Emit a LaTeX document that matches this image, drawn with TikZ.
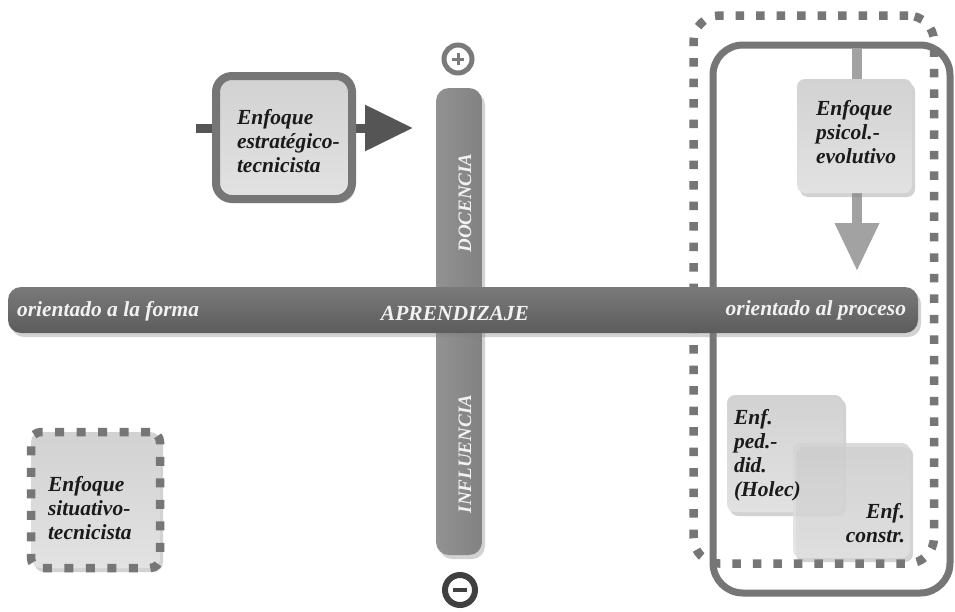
\documentclass[tikz,border=0pt]{standalone}
\usepackage{fontspec}
\setmainfont{Liberation Serif}
\usetikzlibrary{shadows,arrows.meta}
\definecolor{hbarc}{HTML}{6A6A6A}
\definecolor{hbartop}{HTML}{7A7A7A}
\definecolor{hbarbot}{HTML}{5C5C5C}
\definecolor{vbarl}{HTML}{929292}
\definecolor{vbarr}{HTML}{828282}
\definecolor{framec}{HTML}{767676}
\definecolor{boxtop}{HTML}{D2D2D2}
\definecolor{boxbot}{HTML}{E2E2E2}
\definecolor{arrdark}{HTML}{555555}
\definecolor{arrlight}{HTML}{A2A2A2}
\definecolor{plusc}{HTML}{7A7A7A}
\definecolor{minusc}{HTML}{404040}
\definecolor{txtc}{HTML}{1A1A1A}
\definecolor{bartxt}{HTML}{F2F2F2}
\begin{document}
\begin{tikzpicture}[x=1pt,y=-1pt,
  every node/.style={inner sep=0pt, outer sep=0pt},
  shad/.style={drop shadow={opacity=0.35, shadow xshift=3pt, shadow yshift=-4pt}},
  barbase/.style={rounded corners=13pt, shad},
  hbarstyle/.style={barbase, top color=hbartop, bottom color=hbarbot},
  vbarstyle/.style={barbase, left color=vbarl, right color=vbarr},
  bartext/.style={text=bartxt, font=\bfseries\itshape\fontsize{21.5}{24}\selectfont},
  vtext/.style={text=bartxt, font=\bfseries\itshape\fontsize{19}{22}\selectfont, rotate=90},
  boxtext/.style={text=txtc, font=\bfseries\itshape\fontsize{21.5}{24}\selectfont, align=left},
  lightbox/.style={rounded corners=8pt, top color=boxtop, bottom color=boxbot, shad},
  dottedframe/.style={draw=framec, line width=8.5pt, dash pattern=on 8.5pt off 12pt},
  solidframe/.style={draw=framec, line width=7pt, rounded corners=30pt},
]
\useasboundingbox (0,0) rectangle (955,611);
\fill[white] (0,0) rectangle (955,611);

% right frames
\node[solidframe, minimum width=237pt, minimum height=548pt] (solid) at (831.5,319) {};
\node[dottedframe, rounded corners=26pt, minimum width=240.5pt, minimum height=548pt] (dotted) at (813.75,289.5) {};

% vertical bar
\node[vbarstyle, minimum width=46pt, minimum height=467pt] (vbar) at (459,321.5) {};
\node[vtext] (doc) at (465,203) {DOCENCIA};
\node[vtext] (infl) at (465,454) {INFLUENCIA};

% horizontal bar
\node[hbarstyle, minimum width=910pt, minimum height=46pt] (hbar) at (463,310) {};
\node[bartext, anchor=west] (forma) at (17,311) {orientado a la forma};
\node[bartext] (aprend) at (455,314) {APRENDIZAJE};
\node[bartext, anchor=east] (proceso) at (906,310) {orientado al proceso};

% plus / minus
\node[circle, draw=plusc, line width=5pt, minimum size=28pt] (plus) at (458,59) {};
\draw[plusc, line width=3pt] ([xshift=-6pt]plus.center) -- ([xshift=6pt]plus.center);
\draw[plusc, line width=3pt] ([yshift=-6pt]plus.center) -- ([yshift=6pt]plus.center);
\node[circle, draw=minusc, line width=6pt, minimum size=30pt] (minus) at (460,590) {};
\draw[minusc, line width=4pt] ([xshift=-7pt]minus.center) -- ([xshift=7pt]minus.center);

% psicol.-evolutivo with arrow
\coordinate (pa1) at (857,48);
\coordinate (pa2) at (857,271);
\draw[arrlight, line width=10pt, -{Triangle[length=48pt,width=42pt]}, shad] (pa1) -- (pa2);
\node[lightbox, minimum width=115pt, minimum height=114pt] (psicol) at (854.5,136) {};
\node[boxtext, anchor=west] (psicoltxt) at (816,132) {Enfoque\\psicol.-\\evolutivo};

% Holec and constr
\node[lightbox, minimum width=116pt, minimum height=117pt] (holec) at (785,453.5) {};
\node[lightbox, fill opacity=0.82, minimum width=117pt, minimum height=115pt] (constr) at (851.5,500.5) {};
\node[boxtext, anchor=west] (holectxt) at (734,455) {Enf.\\ped.-\\did.\\(Holec)};
\node[boxtext, align=right, anchor=east] (constrtxt) at (905,523) {Enf.\\constr.};

% estrategico-tecnicista with arrow
\coordinate (ea1) at (196,128);
\coordinate (ea2) at (413,128);
\draw[arrdark, line width=9pt, -{Triangle[length=48pt,width=44pt]}, shad] (ea1) -- (ea2);
\node[draw=framec, line width=8pt, rounded corners=16pt, top color=boxtop, bottom color=boxbot, shad,
      minimum width=136pt, minimum height=123pt] (estrat) at (284,137.5) {};
\node[boxtext, anchor=west] (estrattxt) at (237,141) {Enfoque\\estratégico-\\tecnicista};

% situativo-tecnicista
\node[dottedframe, dash pattern=on 9pt off 12.5pt, rounded corners=10pt, top color=boxtop, bottom color=boxbot, shad,
      minimum width=129pt, minimum height=136pt] (situ) at (95.5,500) {};
\node[boxtext, anchor=west] (situtxt) at (48,508) {Enfoque\\situativo-\\tecnicista};
\end{tikzpicture}
\end{document}
